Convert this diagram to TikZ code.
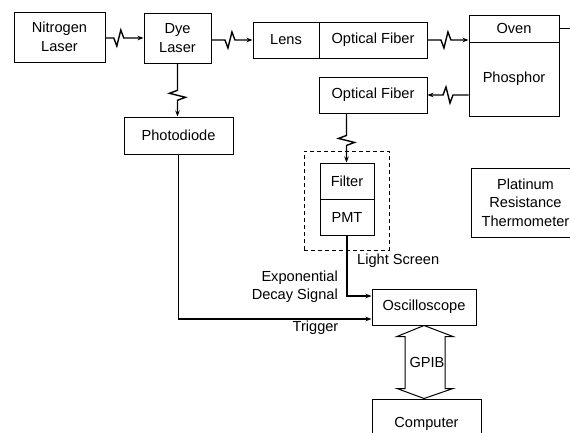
\documentclass[tikz,border=0pt]{standalone}
\usepackage{fontspec}
\setmainfont{Liberation Sans}
\usetikzlibrary{calc,arrows.meta}
\begin{document}
\begin{tikzpicture}[x=1pt,y=-1pt,
  box/.style={draw, line width=1pt, inner sep=0pt, font=\fontsize{14.6}{19}\selectfont, align=center},
  lbl/.style={inner sep=0pt, font=\fontsize{14.6}{18}\selectfont},
  conn/.style={line width=1.4pt, -{Stealth[length=6pt,width=4.5pt]}},
  plain/.style={line width=1.4pt},
  zz/.style 2 args={to path={(\tikztostart)
     -- ($(\tikztostart)!#2!(\tikztotarget)!-5pt!(\tikztotarget)$)
     -- ($(\tikztostart)!#2!(\tikztotarget)!-2pt!(\tikztotarget)!8pt!#1:(\tikztotarget)$)
     -- ($(\tikztostart)!#2!(\tikztotarget)!2pt!(\tikztotarget)!-8pt!#1:(\tikztotarget)$)
     -- ($(\tikztostart)!#2!(\tikztotarget)!5pt!(\tikztotarget)$)
     -- (\tikztotarget) \tikztonodes}},
  screenbox/.style={draw, line width=1pt, dash pattern=on 4pt off 3pt}
]
\clip (0,0) rectangle (570,432);
\useasboundingbox (0,0) rectangle (570,432);

% boxes
\node[box, minimum width=91, minimum height=50] (nl) at (59.5,37) {Nitrogen\\Laser};
\node[box, minimum width=67, minimum height=50] (dl) at (177.5,38) {Dye\\Laser};
\node[box, minimum width=66, minimum height=36] (lens) at (286,40) {Lens};
\node[box, minimum width=108, minimum height=36] (of1) at (373,40) {Optical Fiber};
\node[box, minimum width=90, minimum height=27] (oven) at (514,28.5) {Oven};
\node[box, minimum width=90, minimum height=74] (phos) at (514,79) {Phosphor};
\node[box, minimum width=108, minimum height=36] (of2) at (373,95) {Optical Fiber};
\node[box, minimum width=109, minimum height=37] (pd) at (178.5,135.5) {Photodiode};
\node[screenbox, minimum width=85, minimum height=99, inner sep=0pt] (screen) at (346.5,200.5) {};
\node[box, minimum width=54, minimum height=36] (filter) at (347,181) {Filter};
\node[box, minimum width=54, minimum height=36] (pmt) at (347,217) {PMT};
\node[box, minimum width=104, minimum height=36] (osc) at (424,307) {Oscilloscope};
\node[box, minimum width=109, minimum height=50] (comp) at (426.5,424) {Computer};
\node[box, minimum width=109, minimum height=69, font=\fontsize{14.6}{18.5}\selectfont] (ptm) at (525.5,202.5) {Platinum\\Resistance\\Thermometer};

% labels
\node[lbl, anchor=west] (lscreen) at (357,261) {Light Screen};
\node[lbl, anchor=east, align=right] (expo) at (338,286.5) {Exponential\\Decay Signal};
\node[lbl] (trig) at (315.5,328) {Trigger};
\node[lbl] (gpib) at (427,362) {GPIB};

% connectors
\draw[conn] (nl.east |- dl.west) to[zz={-90}{.35}] (dl.west);
\draw[conn] (lens.west -| dl.east) to[zz={-90}{.45}] (lens.west);
\draw[conn] (of1.east) to[zz={-90}{.45}] (of1.east -| oven.west);
\draw[conn] (phos.west |- of2.east) to[zz={90}{.5}] (of2.east);
\draw[conn] (dl.south) to[zz={-90}{.6}] (dl.south |- pd.north);
\draw[conn] (of2.south west) ++(28,0) coordinate (of2d) to[zz={-90}{.55}] (of2d |- filter.north);
\draw[conn] (pd.south) |- ($(osc.west)+(0,12)$);
\draw[conn] (pmt.south) |- ($(osc.west)+(0,-11)$);
\coordinate (ovenout) at (575,28.5);
\draw[plain] (oven.east) -- (ovenout);

% GPIB double arrow
\coordinate (gt) at (osc.south);
\coordinate (gb) at (osc.south |- comp.north);
\draw[line width=1pt] (gt) -- ++(-27,11) -- ++(8,0) -- ($(gb)+(-19,-10)$) -- ++(-8,0) -- (gb)
  -- ++(29,-10) -- ++(-8,0) -- ($(gt)+(21,11)$) -- ++(8,0) -- cycle;
\end{tikzpicture}
\end{document}
